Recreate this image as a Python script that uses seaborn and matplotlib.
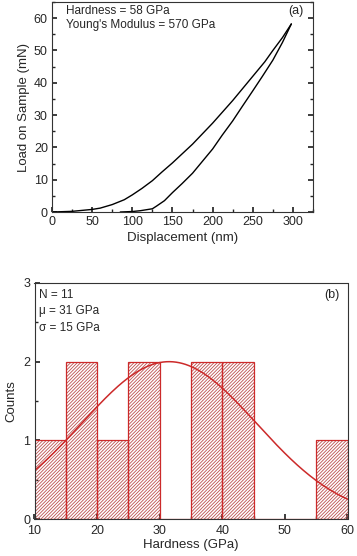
import numpy as np
import pandas as pd
import matplotlib
matplotlib.use("Agg")
import matplotlib.pyplot as plt
from matplotlib.ticker import MultipleLocator
import seaborn as sns

# --- panel (a): load-displacement curve ---
load_disp = [0, 25, 50, 60, 75, 90, 100, 112, 125, 137, 150, 175, 200, 225, 250, 265, 275, 287, 298]
load_mn = [0, 0.2, 0.8, 1.2, 2.3, 3.8, 5.3, 7.3, 9.7, 12.4, 15.2, 21.0, 27.5, 34.5, 42.0, 46.5, 50.0, 54.0, 58.2]
unload_disp = [298, 287, 275, 262, 250, 237, 225, 212, 200, 187, 175, 162, 150, 140, 130, 125, 110, 100, 85]
unload_mn = [58.2, 52.5, 47.0, 42.0, 37.5, 32.7, 28.2, 23.8, 19.5, 15.6, 12.0, 8.8, 6.0, 3.5, 1.8, 1.0, 0.4, 0.15, 0]

# --- panel (b): hardness histogram ---
bin_edges = [10, 15, 20, 25, 30, 35, 40, 45, 50, 55, 60]
hardness = [12, 17, 18, 22, 27, 28, 37, 38, 42, 43, 57]  # one value per indent, N = 11
fit_mu, fit_sigma, fit_amp = 31.5, 14.0, 2.0

red = "#cc2a2a"
hatch_red = "#bb5050"

sns.set_theme(style="ticks")
plt.rcParams['font.family'] = ['Liberation Sans', 'DejaVu Sans']
plt.rcParams['font.size'] = 9
plt.rcParams['hatch.linewidth'] = 0.6

fig = plt.figure(figsize=(3.57, 5.56), dpi=100)
ax1 = fig.add_axes([52 / 357, 1 - 212 / 556, 261 / 357, 210 / 556])
ax2 = fig.add_axes([34.5 / 357, 1 - 519 / 556, 313 / 357, 236 / 556])

# loading / unloading
curve = pd.DataFrame({
    "disp": load_disp + unload_disp,
    "load": load_mn + unload_mn,
    "seg": ["load"] * len(load_disp) + ["unload"] * len(unload_disp),
})
for seg, d in curve.groupby("seg"):
    sns.lineplot(data=d, x="disp", y="load", ax=ax1, color="black", lw=1.0,
                 sort=False, estimator=None)
ax1.set_xlim(0, 325)
ax1.set_ylim(0, 65)
ax1.xaxis.set_major_locator(MultipleLocator(50))
ax1.xaxis.set_minor_locator(MultipleLocator(25))
ax1.yaxis.set_major_locator(MultipleLocator(10))
ax1.yaxis.set_minor_locator(MultipleLocator(5))
ax1.set_xlabel("Displacement (nm)", fontsize=9.5, labelpad=3)
ax1.set_ylabel("Load on Sample (mN)", fontsize=9.5, labelpad=3)
ax1.text(0.055, 0.985, "Hardness = 58 GPa\nYoung's Modulus = 570 GPa", transform=ax1.transAxes,
         va="top", ha="left", fontsize=8.5, linespacing=1.25)
ax1.text(0.965, 0.985, "(a)", transform=ax1.transAxes, va="top", ha="right", fontsize=9)

# histogram: hatch layer, then outline layer
hist = pd.DataFrame({"hardness": hardness})
sns.histplot(data=hist, x="hardness", bins=bin_edges, ax=ax2, fill=False,
             edgecolor=hatch_red, color=hatch_red, linewidth=0, hatch="//////////")
sns.histplot(data=hist, x="hardness", bins=bin_edges, ax=ax2, fill=False,
             edgecolor=red, color=red, linewidth=0.9)
for p in ax2.patches:
    if p.get_hatch():
        p.set_edgecolor(hatch_red)
    else:
        p.set_edgecolor(red)

xs = np.linspace(10, 60, 200)
ax2.plot(xs, fit_amp * np.exp(-(xs - fit_mu) ** 2 / (2 * fit_sigma ** 2)), color=red, lw=1.1)

ax2.set_xlim(10, 60)
ax2.set_ylim(0, 3)
ax2.xaxis.set_major_locator(MultipleLocator(10))
ax2.xaxis.set_minor_locator(MultipleLocator(5))
ax2.yaxis.set_major_locator(MultipleLocator(1))
ax2.yaxis.set_minor_locator(MultipleLocator(0.5))
ax2.set_xlabel("Hardness (GPa)", fontsize=9.5, labelpad=1)
ax2.set_ylabel("Counts", fontsize=9.5, labelpad=4)
ax2.text(0.015, 0.975, "N = 11\n\u03bc = 31 GPa\n\u03c3 = 15 GPa", transform=ax2.transAxes,
         va="top", ha="left", fontsize=8.5, linespacing=1.5)
ax2.text(0.975, 0.975, "(b)", transform=ax2.transAxes, va="top", ha="right", fontsize=9)

for ax in (ax1, ax2):
    for s in ax.spines.values():
        s.set_visible(True)
        s.set_linewidth(0.8)
        s.set_color("#333333")
    ax.tick_params(which="both", direction="in", top=False, right=(ax is ax1), labelsize=9, pad=3)
    ax.tick_params(which="major", length=3.5)
    ax.tick_params(which="minor", length=2)
ax2.tick_params(axis="x", pad=4.5)

fig.savefig("out.png", dpi=100, facecolor="white")
